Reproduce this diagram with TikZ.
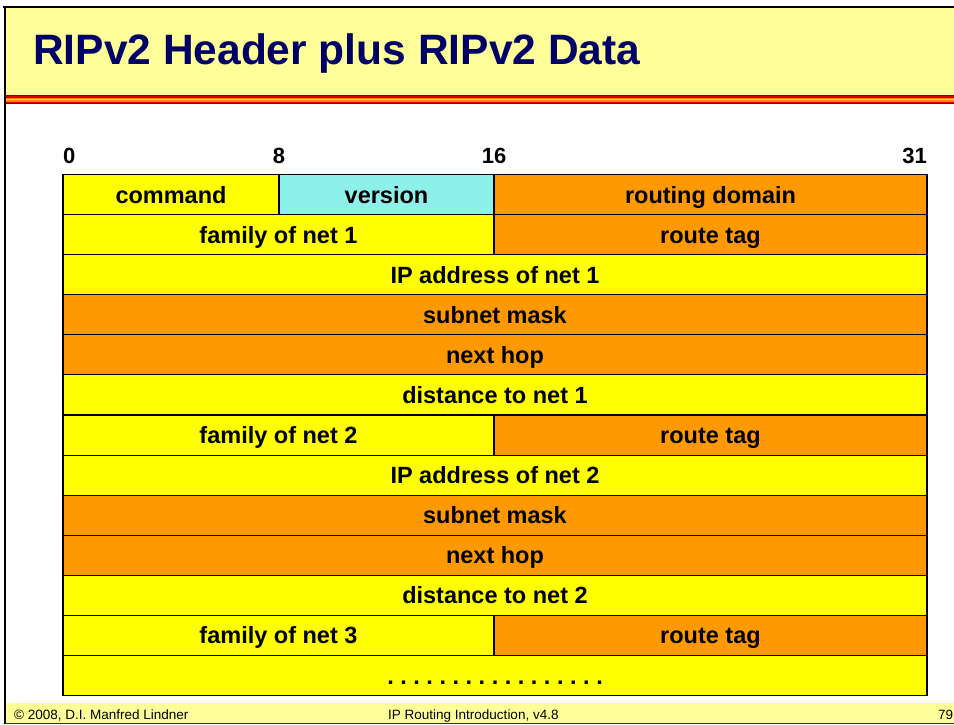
\documentclass[tikz,border=0pt]{standalone}
\usepackage{fontspec}
\setmainfont{Liberation Sans}
\definecolor{titlebg}{HTML}{FFFF99}
\definecolor{navy}{HTML}{000066}
\definecolor{fyellow}{HTML}{FFFF00}
\definecolor{forange}{HTML}{FF9900}
\definecolor{fcyan}{HTML}{8DF0EA}
\definecolor{darkred}{HTML}{8B0000}
\tikzset{
  field/.style={draw=black, line width=1.1pt, rectangle, inner sep=0pt,
    minimum height=40.08pt, text height=19pt, text depth=2pt,
    font=\fontsize{23.5}{26}\selectfont\bfseries\frenchspacing},
  bitlabel/.style={inner sep=0pt, font=\fontsize{22}{24}\selectfont\bfseries},
  foot/.style={inner sep=0pt, anchor=base west, font=\fontsize{13.5}{15}\selectfont\frenchspacing}
}
\newcommand\fld[6]{\node[field, fill=#5, minimum width={#3-#2}] (#1) at ({(#2+#3)/2},{174.5+40.08*#4+20.04}) {#6};}
\begin{document}
\begin{tikzpicture}[x=1pt,y=-1pt]
\useasboundingbox (0,0) rectangle (954,725);
% title bar
\fill[titlebg] (5,8) rectangle (954,95);
% stripe
\fill[darkred] (5,95) rectangle (954,96.5);
\fill[red!85!black] (5,96.5) rectangle (954,98);
\fill[orange] (5,98) rectangle (954,99.3);
\fill[yellow!90!orange] (5,99.3) rectangle (954,100.5);
\fill[orange] (5,100.5) rectangle (954,101.8);
\fill[red!85!black] (5,101.8) rectangle (954,103);
\fill[darkred] (5,103) rectangle (954,104.5);
% footer band
\fill[titlebg] (5,703) rectangle (954,723);
% frame lines
\draw[line width=2pt] (3,7) -- (954,7);
\draw[line width=2pt] (5,6) -- (5,724);
\draw[line width=1.2pt, black!80] (5,723.6) -- (954,723.6);
% title
\node[anchor=base west, inner sep=0pt, text=navy, font=\fontsize{42.5}{46}\selectfont\bfseries] (title) at (33,65) {RIPv2 Header plus RIPv2 Data};
% bit labels
\node[bitlabel, anchor=west] (b0) at (63,156) {0};
\node[bitlabel] (b8) at (279,156) {8};
\node[bitlabel] (b16) at (494,156) {16};
\node[bitlabel, anchor=east] (b31) at (927,156) {31};
% fields
\fld{cmd}{63}{279}{0}{fyellow}{command}
\fld{ver}{279}{494}{0}{fcyan}{version}
\fld{rd}{494}{927}{0}{forange}{routing domain}
\fld{fam1}{63}{494}{1}{fyellow}{family of net 1}
\fld{tag1}{494}{927}{1}{forange}{route tag}
\fld{ip1}{63}{927}{2}{fyellow}{IP address of net 1}
\fld{mask1}{63}{927}{3}{forange}{subnet mask}
\fld{hop1}{63}{927}{4}{forange}{next hop}
\fld{dist1}{63}{927}{5}{fyellow}{distance to net 1}
\fld{fam2}{63}{494}{6}{fyellow}{family of net 2}
\fld{tag2}{494}{927}{6}{forange}{route tag}
\fld{ip2}{63}{927}{7}{fyellow}{IP address of net 2}
\fld{mask2}{63}{927}{8}{forange}{subnet mask}
\fld{hop2}{63}{927}{9}{forange}{next hop}
\fld{dist2}{63}{927}{10}{fyellow}{distance to net 2}
\fld{fam3}{63}{494}{11}{fyellow}{family of net 3}
\fld{tag3}{494}{927}{11}{forange}{route tag}
\fld{more}{63}{927}{12}{fyellow}{. . . . . . . . . . . . . . . . .}
% footer
\node[foot] (f1) at (14,719.5) {© 2008, D.I. Manfred Lindner};
\node[foot] (f2) at (388,719.5) {IP Routing Introduction, v4.8};
\node[foot] (f3) at (938,719.5) {79};
\end{tikzpicture}
\end{document}
